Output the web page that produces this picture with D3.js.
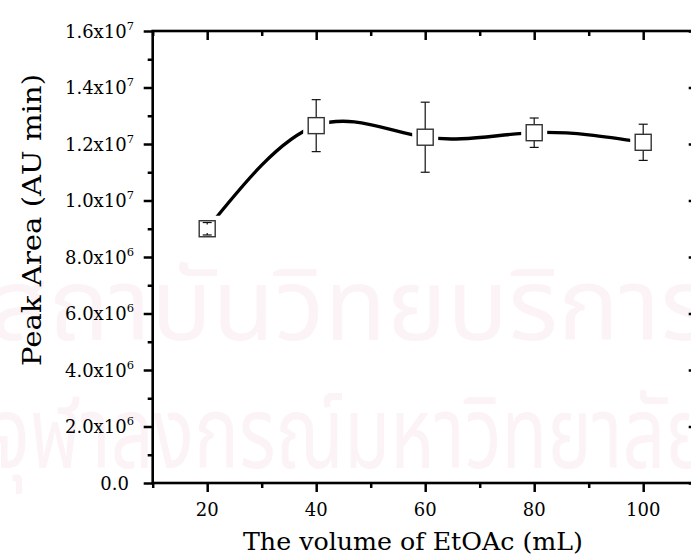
<!DOCTYPE html>
<html>
<head>
<meta charset="utf-8">
<script src="https://cdn.jsdelivr.net/npm/d3@7"></script>
<style>
  html, body { margin: 0; padding: 0; background: #fff; }
  svg { display: block; }
</style>
</head>
<body>
<svg id="chart" width="691" height="557"></svg>
<script>
// ---- data ----
const volumes = [20, 40, 60, 80, 100];                           // mL EtOAc
const peakArea = [9.0e6, 12.65e6, 12.24e6, 12.40e6, 12.06e6];     // AU min
const peakErr = [0.22e6, 0.92e6, 1.24e6, 0.52e6, 0.64e6];
const xTicks = [20, 40, 60, 80, 100];
const xMinorTicks = [10, 30, 50, 70, 90, 110];
const yTicks = [0, 2e6, 4e6, 6e6, 8e6, 1e7, 1.2e7, 1.4e7, 1.6e7];
const yMinorTicks = [1e6, 3e6, 5e6, 7e6, 9e6, 1.1e7, 1.3e7, 1.5e7];
const yTickMantissa = ["0.0", "2.0x10", "4.0x10", "6.0x10", "8.0x10", "1.0x10", "1.2x10", "1.4x10", "1.6x10"];
const yTickExponent = ["", "6", "6", "6", "6", "7", "7", "7", "7"];
const xTitle = "The volume of EtOAc (mL)";
const yTitle = "Peak Area (AU min)";
const watermark = ["สถาบันวิทยบริการ", "จุฬาลงกรณ์มหาวิทยาลัย"];

// ---- layout ----
const svg = d3.select("#chart");
const L = 152.7, R = 697.7, T = 31, B = 483;
const x = d3.scaleLinear().domain([10, 110]).range([L, R]);
const y = d3.scaleLinear().domain([0, 1.6e7]).range([B, T]);
const serif = "'DejaVu Serif', 'Liberation Serif', serif";

// faint watermark
const wm = svg.append("g").attr("fill", "#fbf3f6")
  .attr("font-family", "'Noto Sans Thai', 'Noto Sans', 'DejaVu Sans', sans-serif")
  .attr("font-size", 100).attr("pointer-events", "none");
wm.append("text").attr("x", -10).attr("y", 340).attr("textLength", 720)
  .attr("lengthAdjust", "spacingAndGlyphs").text(watermark[0]);
wm.append("text").attr("x", -10).attr("y", 468).attr("textLength", 720)
  .attr("lengthAdjust", "spacingAndGlyphs").text(watermark[1]);

// axes
function styleAxis(g) {
  g.select(".domain").remove();
  g.selectAll("line").attr("stroke", "#000").attr("stroke-width", 2.5);
  g.selectAll("text").remove();
}
// bottom
svg.append("g").attr("transform", `translate(0,${B})`)
  .call(d3.axisBottom(x).tickValues(xTicks).tickSize(9)).call(styleAxis);
svg.append("g").attr("transform", `translate(0,${B})`)
  .call(d3.axisBottom(x).tickValues(xMinorTicks).tickSize(5)).call(styleAxis);
// top (inward)
svg.append("g").attr("transform", `translate(0,${T})`)
  .call(d3.axisBottom(x).tickValues(xTicks).tickSize(9)).call(styleAxis);
svg.append("g").attr("transform", `translate(0,${T})`)
  .call(d3.axisBottom(x).tickValues(xMinorTicks).tickSize(5)).call(styleAxis);
// left
svg.append("g").attr("transform", `translate(${L},0)`)
  .call(d3.axisLeft(y).tickValues(yTicks).tickSize(9)).call(styleAxis);
svg.append("g").attr("transform", `translate(${L},0)`)
  .call(d3.axisLeft(y).tickValues(yMinorTicks).tickSize(5)).call(styleAxis);
// right (inward)
svg.append("g").attr("transform", `translate(${R},0)`)
  .call(d3.axisLeft(y).tickValues(yTicks).tickSize(9)).call(styleAxis);
svg.append("g").attr("transform", `translate(${R},0)`)
  .call(d3.axisLeft(y).tickValues(yMinorTicks).tickSize(5)).call(styleAxis);

// frame
svg.append("rect").attr("x", L).attr("y", T).attr("width", R - L).attr("height", B - T)
  .attr("fill", "none").attr("stroke", "#000").attr("stroke-width", 2.6);

// x tick labels
svg.append("g").selectAll("text").data(xTicks).join("text")
  .attr("x", d => x(d)).attr("y", B + 33)
  .attr("text-anchor", "middle").attr("font-family", serif).attr("font-size", 18)
  .attr("fill", "#000").text(d => d);

// y tick labels
const yl = svg.append("g").selectAll("text").data(yTicks).join("text")
  .attr("x", 0).attr("y", d => y(d) + 6.5)
  .attr("font-family", serif).attr("font-size", 18).attr("fill", "#000");
yl.each(function(d, i) {
  const t = d3.select(this);
  t.append("tspan").text(yTickMantissa[i]);
  if (yTickExponent[i]) {
    t.append("tspan").attr("dy", -8).attr("font-size", 11.5).text(yTickExponent[i]);
  }
});
yl.each(function(d, i) {
  const w = this.getComputedTextLength();
  const right = yTickExponent[i] ? 134 : 129;
  d3.select(this).attr("x", right - w);
});

// axis titles
svg.append("text").attr("x", 413).attr("y", 550).attr("text-anchor", "middle")
  .attr("font-family", serif).attr("font-size", 25).attr("fill", "#000")
  .attr("textLength", 340).attr("lengthAdjust", "spacingAndGlyphs").text(xTitle);
svg.append("text").attr("transform", "translate(41,220) rotate(-90)").attr("text-anchor", "middle")
  .attr("font-family", serif).attr("font-size", 26).attr("fill", "#000")
  .attr("textLength", 292).attr("lengthAdjust", "spacingAndGlyphs").text(yTitle);

// data
const pts = volumes.map((v, i) => ({ v, a: peakArea[i], e: peakErr[i] }));
const half = 8, gap = 13;

const defs = svg.append("defs");
const mask = defs.append("mask").attr("id", "gapmask").attr("maskUnits", "userSpaceOnUse")
  .attr("x", 0).attr("y", 0).attr("width", 691).attr("height", 557);
mask.append("rect").attr("x", 0).attr("y", 0).attr("width", 691).attr("height", 557).attr("fill", "#fff");
mask.selectAll("rect.hole").data(pts).join("rect").attr("class", "hole")
  .attr("x", d => x(d.v) - gap).attr("y", d => y(d.a) - gap)
  .attr("width", gap * 2).attr("height", gap * 2).attr("fill", "#000");

const line = d3.line().x(d => x(d.v)).y(d => y(d.a)).curve(d3.curveNatural);
svg.append("path").datum(pts).attr("d", line).attr("fill", "none")
  .attr("stroke", "#000").attr("stroke-width", 3.3).attr("mask", "url(#gapmask)");

// error bars
function drawErr(g, data) {
  g.selectAll("line.v").data(data).join("line").attr("class", "v")
    .attr("x1", d => x(d.v)).attr("x2", d => x(d.v))
    .attr("y1", d => y(d.a + d.e)).attr("y2", d => y(d.a - d.e));
  g.selectAll("line.t").data(data).join("line").attr("class", "t")
    .attr("x1", d => x(d.v) - 4.5).attr("x2", d => x(d.v) + 4.5)
    .attr("y1", d => y(d.a + d.e)).attr("y2", d => y(d.a + d.e));
  g.selectAll("line.b").data(data).join("line").attr("class", "b")
    .attr("x1", d => x(d.v) - 4.5).attr("x2", d => x(d.v) + 4.5)
    .attr("y1", d => y(d.a - d.e)).attr("y2", d => y(d.a - d.e));
}
drawErr(svg.append("g").attr("stroke", "#111").attr("stroke-width", 1.2), pts);

// markers
svg.append("g").selectAll("rect").data(pts).join("rect")
  .attr("x", d => x(d.v) - half).attr("y", d => y(d.a) - half)
  .attr("width", half * 2).attr("height", half * 2)
  .attr("fill", "#fff").attr("stroke", "#333").attr("stroke-width", 1.4);

// caps that fall inside a marker are drawn on top of it
const innerPts = pts.filter(d => y(d.a - d.e) - y(d.a + d.e) < half * 2);
const inner = svg.append("g").attr("stroke", "#111").attr("stroke-width", 1.2);
inner.selectAll("line.t").data(innerPts).join("line").attr("class", "t")
  .attr("x1", d => x(d.v) - 4.5).attr("x2", d => x(d.v) + 4.5)
  .attr("y1", d => y(d.a + d.e)).attr("y2", d => y(d.a + d.e));
inner.selectAll("line.b").data(innerPts).join("line").attr("class", "b")
  .attr("x1", d => x(d.v) - 4.5).attr("x2", d => x(d.v) + 4.5)
  .attr("y1", d => y(d.a - d.e)).attr("y2", d => y(d.a - d.e));
inner.selectAll("line.u").data(innerPts).join("line").attr("class", "u")
  .attr("x1", d => x(d.v)).attr("x2", d => x(d.v))
  .attr("y1", d => y(d.a + d.e)).attr("y2", d => y(d.a + d.e) + 2);
inner.selectAll("line.w").data(innerPts).join("line").attr("class", "w")
  .attr("x1", d => x(d.v)).attr("x2", d => x(d.v))
  .attr("y1", d => y(d.a - d.e)).attr("y2", d => y(d.a - d.e) - 2);
</script>
</body>
</html>
